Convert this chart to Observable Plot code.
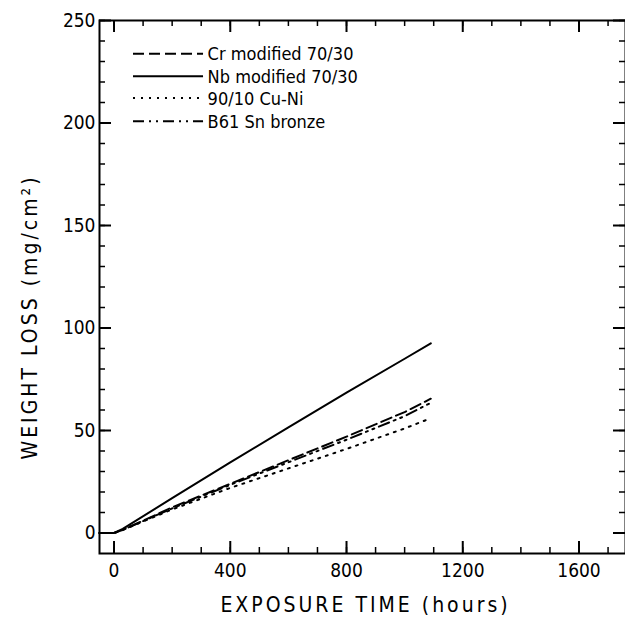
<!DOCTYPE html>
<html>
<head>
<meta charset="utf-8">
<script src="https://cdn.jsdelivr.net/npm/d3@7"></script>
<script src="https://cdn.jsdelivr.net/npm/@observablehq/plot@0.6"></script>
<style>
  html, body { margin: 0; padding: 0; background: #fff; }
  #chart { width: 625px; height: 623px; overflow: hidden; }
</style>
</head>
<body>
<div id="chart"></div>
<script>
// ---- data ----
const hours        = [-50, 0, 30, 200, 400, 600, 800, 1000, 1090];
const crModified   = [0, 0, 1.5, 12.5, 24.0, 35.5, 47.0, 59.0, 65.5];
const nbModified   = [0, 0, 2.0, 17.0, 34.5, 51.5, 68.5, 85.0, 92.5];
const cuNi9010     = [0, 0, 1.5, 11.5, 22.0, 31.5, 41.0, 51.0, 56.0];
const b61SnBronze  = [0, 0, 1.5, 12.0, 23.5, 34.5, 45.5, 57.0, 63.5];
const seriesNames  = ["Cr modified 70/30", "Nb modified 70/30", "90/10 Cu-Ni", "B61 Sn bronze"];
const seriesValues = [crModified, nbModified, cuNi9010, b61SnBronze];
const seriesDash   = ["11,5", null, "2,6", "11,5,2,5,2,5"];

const xMajorTicks = [0, 400, 800, 1200, 1600];
const xMinorTicks = d3.range(0, 1800, 100);
const yMajorTicks = [0, 50, 100, 150, 200, 250];
const yMinorTicks = d3.range(0, 251, 10);

// legend layout (data units)
const legendRows = [233.8, 222.8, 212.2, 200.8];
const legendLineX = [67, 308];
const legendTextX = 322;

const rows = seriesNames.flatMap((name, i) =>
  hours.map((h, j) => ({series: name, hours: h, loss: seriesValues[i][j]})));

const W = 625, H = 623;
const mL = 99, mR = 0, mT = 20, mB = 70;
const frameW = W - mL - mR, frameH = H - mT - mB;
const majorLen = 12, minorLen = 6;

const marks = [];
seriesNames.forEach((name, i) => {
  marks.push(Plot.line(rows.filter(d => d.series === name), {
    x: "hours", y: "loss", stroke: "black", strokeWidth: 2,
    strokeDasharray: seriesDash[i] ?? undefined
  }));
});
seriesNames.forEach((name, i) => {
  marks.push(Plot.ruleY([legendRows[i]], {
    x1: legendLineX[0], x2: legendLineX[1], stroke: "black", strokeWidth: 2,
    strokeDasharray: seriesDash[i] ?? undefined
  }));
});
marks.push(Plot.text(seriesNames, {
  x: legendTextX, y: (d, i) => legendRows[i], text: d => d, dy: 1,
  textAnchor: "start", lineAnchor: "middle", fontSize: 18, fill: "black"
}));
marks.push(Plot.ruleX(xMinorTicks, {x: d => d, insetTop: frameH - minorLen, stroke: "black", strokeWidth: 1.5}));
marks.push(Plot.ruleX(xMinorTicks, {x: d => d, insetBottom: frameH - minorLen, stroke: "black", strokeWidth: 1.5}));
marks.push(Plot.ruleX(xMajorTicks, {x: d => d, insetTop: frameH - majorLen, stroke: "black", strokeWidth: 2}));
marks.push(Plot.ruleX(xMajorTicks, {x: d => d, insetBottom: frameH - majorLen, stroke: "black", strokeWidth: 2}));
marks.push(Plot.ruleY(yMinorTicks, {y: d => d, insetRight: frameW - minorLen, stroke: "black", strokeWidth: 1.5}));
marks.push(Plot.ruleY(yMinorTicks, {y: d => d, insetLeft: frameW - minorLen, stroke: "black", strokeWidth: 1.5}));
marks.push(Plot.ruleY(yMajorTicks, {y: d => d, insetRight: frameW - majorLen, stroke: "black", strokeWidth: 2}));
marks.push(Plot.ruleY(yMajorTicks, {y: d => d, insetLeft: frameW - majorLen, stroke: "black", strokeWidth: 2}));
marks.push(Plot.frame({stroke: "black", strokeWidth: 2}));
marks.push(Plot.axisX({ticks: xMajorTicks, tickSize: 0, tickPadding: 10, fontSize: 19, tickFormat: d => String(d), label: null}));
marks.push(Plot.axisY({ticks: yMajorTicks, tickSize: 0, tickPadding: 4, fontSize: 19, tickFormat: d => String(d), label: null}));
marks.push(Plot.text(["EXPOSURE TIME (hours)"], {frameAnchor: "bottom", dy: 52, dx: 3, text: d => d, textAnchor: "middle", lineAnchor: "middle", fontSize: 21, fill: "black"}));
marks.push(Plot.text(["WEIGHT LOSS (mg/cm²)"], {frameAnchor: "left", rotate: -90, dx: -69, dy: 30, text: d => d, textAnchor: "middle", lineAnchor: "middle", fontSize: 21, fill: "black"}));

const chart = Plot.plot({
  width: W, height: H,
  marginLeft: mL, marginRight: mR, marginTop: mT, marginBottom: mB,
  x: {domain: [-50, 1760], axis: null},
  y: {domain: [-10, 250], axis: null},
  style: {fontFamily: "'DejaVu Sans Condensed', 'DejaVu Sans', sans-serif", color: "black", background: "white", overflow: "visible"},
  marks
});
d3.select(chart).selectAll("text").each(function() {
  const t = this.textContent;
  if (t === "EXPOSURE TIME (hours)" || t === "WEIGHT LOSS (mg/cm²)") this.style.letterSpacing = "3px";
});
document.getElementById("chart").appendChild(chart);
</script>
</body>
</html>
